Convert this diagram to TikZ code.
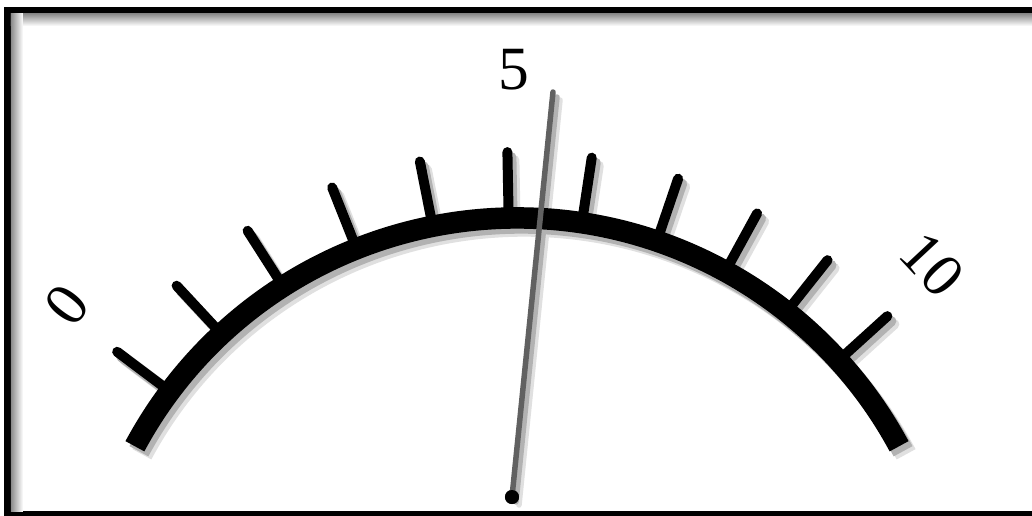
\documentclass[tikz,border=0pt]{standalone}
\usepackage{fontspec}
\setmainfont{Liberation Serif}
\usetikzlibrary{positioning}

\tikzset{
  scalearc/.style={line width=0.43cm},
  tickmark/.style={line width=0.2cm, line cap=round},
  needle/.style={line width=0.11cm, line cap=round},
  digit/.style={inner sep=0pt, font=\fontsize{35}{40}\selectfont},
}

% Dial face: arc and eleven ticks, #1 = colour
\newcommand{\meterface}[1]{%
  \draw[#1, scalearc] (151.7:434) arc (151.7:28.3:434);
  \foreach \a in {143.1,132.9,122.6,111.7,101.2,91.1,81.4,71.2,61.3,51.6,42.2}
    \draw[#1, tickmark] (\a:438) -- (\a:500);
}

\begin{document}
\begin{tikzpicture}[x=0.02cm, y=0.02cm]
  % Picture area 1032 x 515, origin at the centre of the dial
  \useasboundingbox (-517,137) rectangle (515,652);
  \clip (-517,137) rectangle (515,652);

  % --- FRAME ---
  \fill[black] (-513,120) rectangle (530,645);
  \fill[white] (-506,141) rectangle (530,638);
  % sunken edge along top and left
  \shade[top color=black!45, bottom color=white] (-506,626) rectangle (530,638);
  \shade[left color=black!45, right color=white] (-506,141) rectangle (-494,638);
  \fill[white] (-494,141) rectangle (530,626);

  % --- SHADOWS ---
  \begin{scope}[shift={(7,-8)}]
    \meterface{black!12}
    \draw[needle, black!12] (-5,155) -- (36,560);
  \end{scope}
  \begin{scope}[shift={(4,-5)}]
    \meterface{black!30}
    \draw[needle, black!30] (-5,155) -- (36,560);
  \end{scope}

  % --- DIAL ---
  \meterface{black}

  % Numbers
  \node[digit, rotate=52.4] (zero) at (142.4:568) {0};
  \node[digit] (five) at (90.3:582) {5};
  \node[digit, rotate=-47] (ten) at (43:568) {10};

  % --- NEEDLE ---
  \coordinate (tip) at (36,560);
  \node[circle, fill=black, inner sep=0pt, minimum size=0.28cm] (pivot) at (-5,155) {};
  \draw[needle, black!62] (pivot.center) -- (tip);
  \fill[black] (pivot) circle (7);
\end{tikzpicture}
\end{document}
